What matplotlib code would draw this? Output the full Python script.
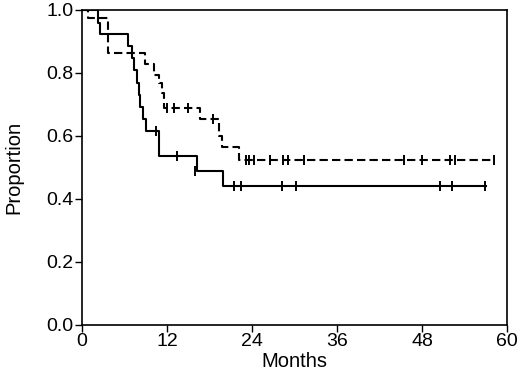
import matplotlib
matplotlib.use("Agg")
import matplotlib.pyplot as plt
import numpy as np

plt.rcParams['font.family'] = ['Liberation Sans', 'DejaVu Sans']

# Group A (solid): event times and survival after each step
a_times = [0, 2.3, 2.5, 6.5, 7.0, 7.3, 7.8, 8.0, 8.2, 8.6, 9.0, 10.9, 16.2, 19.9, 57.0]
a_surv = [1.0, 0.96, 0.923, 0.885, 0.846, 0.808, 0.769, 0.731, 0.692, 0.654, 0.615, 0.535, 0.49, 0.44, 0.44]
a_cens_t = [10.4, 13.4, 16.0, 21.5, 22.5, 28.2, 30.2, 50.6, 52.2, 56.9]
a_cens_s = [0.615, 0.535, 0.49, 0.44, 0.44, 0.44, 0.44, 0.44, 0.44, 0.44]

# Group B (dashed)
b_times = [0, 0.85, 3.7, 8.9, 10.2, 10.8, 11.25, 11.6, 16.6, 19.3, 19.7, 22.1, 58.1]
b_surv = [1.0, 0.976, 0.862, 0.83, 0.794, 0.767, 0.736, 0.69, 0.653, 0.60, 0.566, 0.522, 0.522]
b_cens_t = [11.96, 12.9, 15.0, 18.5, 23.2, 23.5, 24.2, 26.5, 28.4, 29.1, 31.3, 45.4, 48.0, 52.0, 52.7, 58.1]
b_cens_s = [0.69, 0.69, 0.69, 0.653, 0.522, 0.522, 0.522, 0.522, 0.522, 0.522, 0.522, 0.522, 0.522, 0.522, 0.522, 0.522]

x_ticks = [0, 12, 24, 36, 48, 60]
y_ticks = [0.0, 0.2, 0.4, 0.6, 0.8, 1.0]

fig = plt.figure(figsize=(5.2, 3.7), dpi=100)
ax = fig.add_axes([0.158, 0.122, 0.817, 0.851])

lw = 1.5
ax.step(a_times, a_surv, where='post', color='black', lw=lw)
ax.plot(a_cens_t, a_cens_s, linestyle='none', marker='|', color='black', ms=7.5, mew=1.4)
ax.step(b_times, b_surv, where='post', color='black', lw=lw, dashes=(4, 2))
ax.plot(b_cens_t, b_cens_s, linestyle='none', marker='|', color='black', ms=7.5, mew=1.4)

ax.set_xlim(0, 60)
ax.set_ylim(0, 1.0)
ax.set_xticks(x_ticks)
ax.set_xticklabels([str(t) for t in x_ticks])
ax.set_yticks(y_ticks)
ax.set_yticklabels([f"{t:.1f}" for t in y_ticks])
ax.tick_params(direction='out', length=5, width=1, labelsize=14, pad=1, color='black')
for s in ax.spines.values():
    s.set_linewidth(1.2)
ax.set_xlabel("Months", fontsize=14.5, labelpad=1)
ax.set_ylabel("Proportion", fontsize=14.5, labelpad=17)

fig.savefig("out.png", dpi=100)
